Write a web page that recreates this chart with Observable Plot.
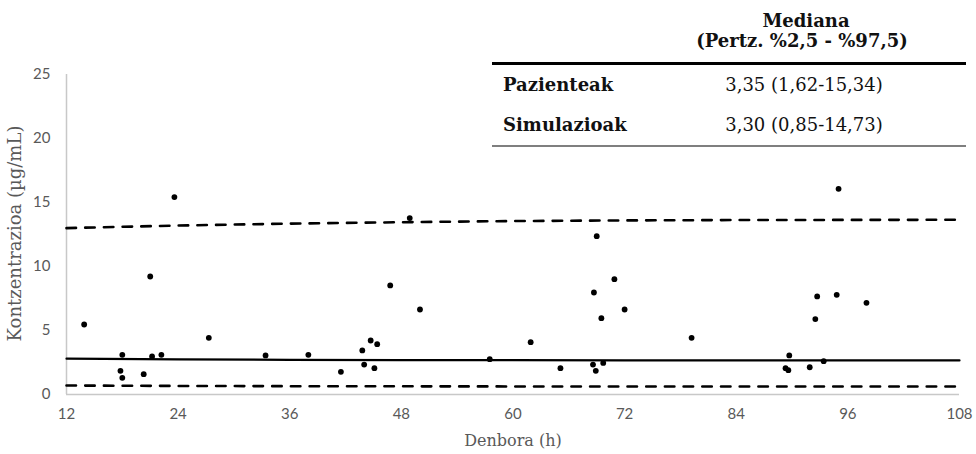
<!DOCTYPE html>
<html>
<head>
<meta charset="utf-8">
<script src="https://cdn.jsdelivr.net/npm/d3@7"></script>
<script src="https://cdn.jsdelivr.net/npm/@observablehq/plot@0.6"></script>
<style>
  html, body { margin: 0; padding: 0; background: #fff; }
  #wrap { position: relative; width: 976px; height: 454px; overflow: hidden; }
  #tbl { position: absolute; left: 0; top: 0; width: 976px; height: 160px; pointer-events: none;
         font-family: "DejaVu Serif", "Liberation Serif", serif; font-size: 18px; color: #111; }
  #tbl div { position: absolute; white-space: nowrap; line-height: 1; }
  .c { transform: translateX(-50%); }
  .b { font-weight: bold; }
</style>
</head>
<body>
<div id="wrap">
  <div id="chart"></div>
  <div id="tbl"></div>
</div>
<script>
// Observed patients: time (h) and concentration (µg/mL)
const obsTime = [13.9, 23.6, 21.0, 18.0, 17.8, 18.0, 20.3, 21.2, 22.2, 27.3, 33.4, 38.0, 41.5,
  48.9, 46.8, 50.0, 43.8, 44.7, 45.4, 44.0, 45.1, 57.5, 61.9, 65.1, 69.0, 68.7, 70.9, 69.5, 72.0, 68.6, 68.9, 69.7,
  95.0, 79.2, 89.7, 89.3, 89.6, 91.9, 93.4, 92.7, 92.5, 94.8, 98.0];
const obsConc = [5.47, 15.42, 9.22, 3.10, 1.85, 1.30, 1.59, 2.97, 3.10, 4.43, 3.05, 3.10, 1.77,
  13.78, 8.52, 6.64, 3.44, 4.22, 3.93, 2.34, 2.06, 2.76, 4.09, 2.06, 12.37, 7.97, 9.01, 5.96, 6.64, 2.34, 1.85, 2.47,
  16.07, 4.43, 3.05, 2.06, 1.90, 2.13, 2.60, 7.66, 5.89, 7.79, 7.16];

// Simulated percentile lines
const simTime = [12, 24, 36, 48, 60, 72, 84, 96, 108];
const simMedian = [2.80, 2.74, 2.71, 2.69, 2.68, 2.67, 2.66, 2.66, 2.66];
const simP975 = [13.00, 13.20, 13.35, 13.46, 13.55, 13.60, 13.63, 13.64, 13.65];
const simP025 = [0.70, 0.67, 0.65, 0.64, 0.63, 0.62, 0.62, 0.62, 0.62];

// Axis ticks
const xTicks = [12, 24, 36, 48, 60, 72, 84, 96, 108];
const yTicks = [0, 5, 10, 15, 20, 25];

// Summary table
const tblHeader = ["Mediana", "(Pertz. %2,5 - %97,5)"];
const tblRows = ["Pazienteak", "Simulazioak"];
const tblValues = ["3,35 (1,62-15,34)", "3,30 (0,85-14,73)"];

const points = obsTime.map((t, i) => ({t, c: obsConc[i]}));
const lineRows = (vals) => simTime.map((t, i) => ({t, v: vals[i]}));

const gray = "#595959";
const chart = Plot.plot({
  width: 976,
  height: 454,
  marginLeft: 66,
  marginRight: 17,
  marginTop: 74,
  marginBottom: 60,
  style: {fontFamily: "Lato, 'Open Sans', sans-serif", fontSize: "15px", color: gray, background: "white"},
  x: {domain: [12, 108], ticks: xTicks, tickSize: 0, tickPadding: 14, label: null},
  y: {domain: [0, 25], ticks: yTicks, tickSize: 0, tickPadding: 16, label: null},
  marks: [
    Plot.ruleX([12], {stroke: "#c8c8c8", strokeWidth: 1.5}),
    Plot.ruleY([0], {stroke: "#c8c8c8", strokeWidth: 1.5}),
    Plot.line(lineRows(simP975), {x: "t", y: "v", stroke: "black", strokeWidth: 2.6, strokeDasharray: "9.5,9.2"}),
    Plot.line(lineRows(simP025), {x: "t", y: "v", stroke: "black", strokeWidth: 2.6, strokeDasharray: "9.5,9.2"}),
    Plot.line(lineRows(simMedian), {x: "t", y: "v", stroke: "black", strokeWidth: 2.2}),
    Plot.dot(points, {x: "t", y: "c", r: 2.9, fill: "black", stroke: null}),
    Plot.text(["Denbora (h)"], {frameAnchor: "bottom", dy: 51, text: d => d,
      fontFamily: "DejaVu Serif, serif", fontSize: 16, fill: gray}),
    Plot.text(["Kontzentrazioa (µg/mL)"], {frameAnchor: "left", dx: -51, dy: -1, rotate: -90, textAnchor: "middle", text: d => d,
      fontFamily: "DejaVu Serif, serif", fontSize: 18, fill: gray, letterSpacing: "1.6px"})
  ]
});
document.getElementById("chart").appendChild(chart);

// HTML table overlay
const tbl = document.getElementById("tbl");
function add(text, left, top, cls) {
  const d = document.createElement("div");
  d.textContent = text;
  d.style.left = left + "px";
  d.style.top = top + "px";
  if (cls) d.className = cls;
  tbl.appendChild(d);
}
add(tblHeader[0], 806, 12, "c b");
add(tblHeader[1], 802, 32, "c b");
add(tblRows[0], 503, 76, "b");
add(tblValues[0], 804, 76, "c");
add(tblRows[1], 503, 116, "b");
add(tblValues[1], 804, 116, "c");
const l1 = document.createElement("div");
l1.style.cssText = "left:492px;top:62px;width:474px;height:3px;background:#000;";
tbl.appendChild(l1);
const l2 = document.createElement("div");
l2.style.cssText = "left:492px;top:145px;width:474px;height:1.5px;background:#7f7f7f;";
tbl.appendChild(l2);
</script>
</body>
</html>
